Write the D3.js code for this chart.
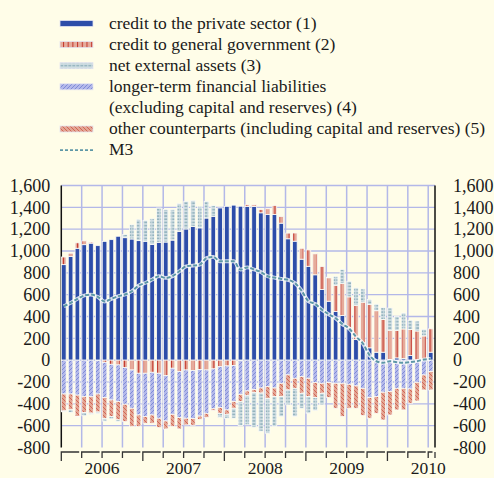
<!DOCTYPE html>
<html>
<head>
<meta charset="utf-8">
<script src="https://cdn.jsdelivr.net/npm/d3@7"></script>
<style>
  body { margin: 0; background: #fffde8; }
  svg { display: block; font-family: "Liberation Serif", "Times New Roman", serif; }
</style>
</head>
<body>
<script>
// monthly, Jan 2006 - Jul 2010 (EUR billions, annual flows)
const months = d3.timeMonth.range(new Date(2006, 0, 1), new Date(2010, 7, 1));

const privateCredit = [875, 950, 1025, 1058, 1072, 1049, 1088, 1104, 1135, 1122, 1110, 1095,
  1089, 1060, 1080, 1082, 1100, 1180, 1202, 1226, 1212, 1302, 1318, 1394,
  1409, 1420, 1410, 1408, 1408, 1350, 1335, 1335, 1255, 1112, 1090, 925,
  860, 782, 648, 540, 446, 410, 296, 189, 159, 113, 73, 73,
  6, 21, 15, 43, 2, 2, 73];
const govCredit = [70, 30, 50, 35, 10, -5, -20, -38, -44, -68, -90, -120,
  -120, -111, -120, -142, -74, -105, -90, -95, -85, -90, -80, -60,
  -53, -50, -5, 15, 15, 30, 52, 82, 62, 52, 75, 100,
  150, 192, 210, 215, 240, 292, 284, 311, 372, 397, 380, 300,
  268, 250, 271, 238, 265, 220, 214];
const netExternal = [-8, -25, -5, -30, -10, -15, -25, -21, -15, 30, 130, 195,
  192, 235, 314, 299, 281, 254, 253, 235, 198, 153, 97, -39,
  -36, -91, -220, -270, -320, -350, -320, -275, -183, -137, -259, -138,
  -152, -120, -107, 5, 82, 130, 143, 162, 122, 45, 60, 110,
  204, 131, 146, 85, 92, 61, 0];
const longerTerm = [-310, -310, -320, -335, -335, -305, -323, -327, -336, -336, -351, -382,
  -397, -391, -412, -415, -422, -421, -442, -440, -427, -397, -366, -375,
  -403, -330, -308, -282, -270, -255, -243, -255, -212, -135, -166, -151,
  -166, -205, -212, -205, -212, -212, -221, -236, -258, -343, -334, -294,
  -288, -258, -258, -264, -203, -136, -105];
const otherCounterparts = [-155, -145, -195, -145, -150, -165, -190, -152, -167, -159, -168, -107,
  -61, -76, -86, -73, -113, -104, -61, -61, -31, -39, -15, -52,
  -40, -61, -67, -40, -25, -46, -107, -77, -122, -138, -92, -152,
  -168, -137, -91, -137, -229, -305, -220, -205, -250, -189, -153, -254,
  -214, -198, -198, -131, -171, -137, -168];
const m3 = [494, 525, 561, 592, 601, 580, 537, 561, 586, 601, 631, 683,
  708, 738, 769, 753, 769, 814, 860, 866, 875, 935, 946, 905,
  906, 906, 830, 850, 830, 808, 769, 757, 744, 736, 706, 636,
  540, 515, 462, 420, 385, 330, 290, 215, 155, 45, -10, -24,
  -9, -18, -24, -18, -9, 6, 12];

const yTicks = d3.range(-800, 1601, 200);
const years = [2006, 2007, 2008, 2009, 2010];

const legendItems = [
  { key: "s1", label: ["credit to the private sector (1)"] },
  { key: "s2", label: ["credit to general government (2)"] },
  { key: "s3", label: ["net external assets (3)"] },
  { key: "s4", label: ["longer-term financial liabilities", "(excluding capital and reserves) (4)"] },
  { key: "s5", label: ["other counterparts (including capital and reserves) (5)"] },
  { key: "m3", label: ["M3"] }
];

const W = 494, H = 478;
const pLeft = 61.3, pRight = 435, pTop = 185.5, pBottom = 447.5;
const serif = "'Liberation Serif', 'Times New Roman', serif";

const rows = months.map((m, i) => ({
  month: m, s1: privateCredit[i], s2: govCredit[i], s3: netExternal[i],
  s4: longerTerm[i], s5: otherCounterparts[i], m3: m3[i]
}));

const x = d3.scaleBand().domain(d3.range(months.length)).range([pLeft, pRight]);
const y = d3.scaleLinear().domain([-800, 1600]).range([pBottom, pTop]);
const barW = x.bandwidth() * 0.68;

const fmt = d3.formatLocale({ decimal: ".", thousands: ",", grouping: [3], currency: ["", ""], minus: "-" }).format(",");

const svg = d3.select("body").append("svg")
  .attr("width", W)
  .attr("height", H)
  .attr("font-family", serif);

svg.append("rect").attr("width", W).attr("height", H).attr("fill", "#fffde8");

// patterns
const defs = svg.append("defs");

const gov = defs.append("pattern").attr("id", "pat-s2").attr("patternUnits", "userSpaceOnUse")
  .attr("width", 4.7).attr("height", 4);
gov.append("rect").attr("width", 4.7).attr("height", 4).attr("fill", "#e6ab9b");
gov.append("rect").attr("x", 1.9).attr("width", 1).attr("height", 4).attr("fill", "#c2352b");

const ext = defs.append("pattern").attr("id", "pat-s3").attr("patternUnits", "userSpaceOnUse")
  .attr("width", 4).attr("height", 3.2);
ext.append("rect").attr("width", 4).attr("height", 3.2).attr("fill", "#cfdde2");
ext.append("rect").attr("x", 0.3).attr("y", 1.2).attr("width", 3).attr("height", 0.9).attr("fill", "#6c98a6");

const ltl = defs.append("pattern").attr("id", "pat-s4").attr("patternUnits", "userSpaceOnUse")
  .attr("width", 4).attr("height", 4);
ltl.append("rect").attr("width", 4).attr("height", 4).attr("fill", "#b4b9ea");
ltl.append("path").attr("d", "M-1,1 l2,-2 M0,4 l4,-4 M3,5 l2,-2")
  .attr("stroke", "#5a6bc9").attr("stroke-width", 0.6);

const oth = defs.append("pattern").attr("id", "pat-s5").attr("patternUnits", "userSpaceOnUse")
  .attr("width", 4).attr("height", 4);
oth.append("rect").attr("width", 4).attr("height", 4).attr("fill", "#e3a694");
oth.append("path").attr("d", "M-1,3 l2,2 M0,0 l4,4 M3,-1 l2,2")
  .attr("stroke", "#c94a3b").attr("stroke-width", 0.7);

const fills = { s1: "#2d4da9", s2: "url(#pat-s2)", s3: "url(#pat-s3)", s4: "url(#pat-s4)", s5: "url(#pat-s5)" };

// grid
const quarterIdx = d3.range(0, months.length, 3);

svg.append("g")
  .selectAll("line")
  .data(yTicks.filter(v => v > -800))
  .join("line")
  .attr("x1", pLeft).attr("x2", pRight)
  .attr("y1", d => y(d)).attr("y2", d => y(d))
  .attr("stroke", "#b3b8e8").attr("stroke-width", 1.3);

svg.append("g")
  .selectAll("line")
  .data(quarterIdx.filter(i => i > 0))
  .join("line")
  .attr("x1", d => x(d)).attr("x2", d => x(d))
  .attr("y1", pTop).attr("y2", pBottom)
  .attr("stroke", "#b3b8e8").attr("stroke-width", 1.5);

// frame sides
svg.append("line").attr("x1", pLeft).attr("x2", pLeft).attr("y1", pTop).attr("y2", pBottom)
  .attr("stroke", "#111").attr("stroke-width", 1.5);
svg.append("line").attr("x1", pRight).attr("x2", pRight).attr("y1", pTop).attr("y2", pBottom)
  .attr("stroke", "#111").attr("stroke-width", 1.5);

// stacked bars: positives 1,2,3 ; negatives 2,4,5,3
const keys = ["s1", "s2", "s4", "s5", "s3"];
const series = d3.stack().keys(keys).offset(d3.stackOffsetDiverging)(rows);

svg.append("g")
  .selectAll("g")
  .data(series)
  .join("g")
  .attr("fill", d => fills[d.key])
  .selectAll("rect")
  .data(d => d.map((v, i) => ({ v, i })).filter(e => e.v[1] !== e.v[0]))
  .join("rect")
  .attr("x", d => x(d.i) + 0.2)
  .attr("width", barW)
  .attr("y", d => y(Math.max(d.v[0], d.v[1])))
  .attr("height", d => Math.abs(y(d.v[0]) - y(d.v[1])))
  .attr("stroke", "#fbfbf6")
  .attr("stroke-width", 0.8);

// M3 line
const line = d3.line()
  .x((d, i) => x(i) + 0.2 + barW / 2)
  .y(d => y(d.m3))
  .curve(d3.curveMonotoneX);

svg.append("path").datum(rows).attr("d", line)
  .attr("fill", "none").attr("stroke", "#ffffff").attr("stroke-width", 3.8).attr("stroke-opacity", 0.8);
svg.append("path").datum(rows).attr("d", line)
  .attr("fill", "none").attr("stroke", "#5d97a6").attr("stroke-width", 2)
  .attr("stroke-dasharray", "4,2");

// y axes
const yl = svg.append("g").attr("transform", `translate(${pLeft},0)`)
  .call(d3.axisLeft(y).tickValues(yTicks).tickFormat(fmt).tickSize(0).tickPadding(11));
const yr = svg.append("g").attr("transform", `translate(${pRight},0)`)
  .call(d3.axisRight(y).tickValues(yTicks).tickFormat(fmt).tickSize(0).tickPadding(18));
[yl, yr].forEach(g => {
  g.attr("font-family", serif).attr("font-size", 18);
  g.select(".domain").remove();
  g.selectAll("text").attr("fill", "#1a1a1a");
});

// x axis: quarter segments with ticks
const axisY = 452;
const xa = svg.append("g").attr("stroke", "#333").attr("stroke-width", 1.3).attr("fill", "none");
quarterIdx.forEach(i => {
  const x0 = x(i);
  const x1 = Math.min(x0 + x.step() * 3, pRight) - 2.5;
  const long = i % 12 === 0;
  xa.append("path").attr("d", `M${x0},${axisY + (long ? 9 : 6)}V${axisY}H${x1}`);
});
xa.append("path").attr("d", `M${pRight},${axisY}V${axisY + 6}`);

svg.append("g")
  .selectAll("text")
  .data(years)
  .join("text")
  .attr("x", d => x((d - 2006) * 12) + x.step() * 6)
  .attr("y", 474)
  .attr("text-anchor", "middle")
  .attr("font-size", 17.5)
  .attr("fill", "#1a1a1a")
  .text(d => d);

// legend
const lg = svg.append("g").attr("font-family", serif).attr("font-size", 17.5).attr("fill", "#1a1a1a");
let row = 0;
legendItems.forEach(item => {
  const cy = 23.5 + row * 21.1;
  if (item.key === "m3") {
    lg.append("line").attr("x1", 60).attr("x2", 93).attr("y1", cy).attr("y2", cy)
      .attr("stroke", "#5d97a6").attr("stroke-width", 1.6).attr("stroke-dasharray", "3,2");
  } else {
    lg.append("rect").attr("x", 60).attr("y", cy - 3).attr("width", 33).attr("height", 6)
      .attr("fill", fills[item.key]).attr("stroke", "#e4e4f0").attr("stroke-width", 0.8);
  }
  item.label.forEach(t => {
    lg.append("text").attr("x", 109).attr("y", 23.5 + row * 21.1 + 5).text(t);
    row++;
  });
});
</script>
</body>
</html>
